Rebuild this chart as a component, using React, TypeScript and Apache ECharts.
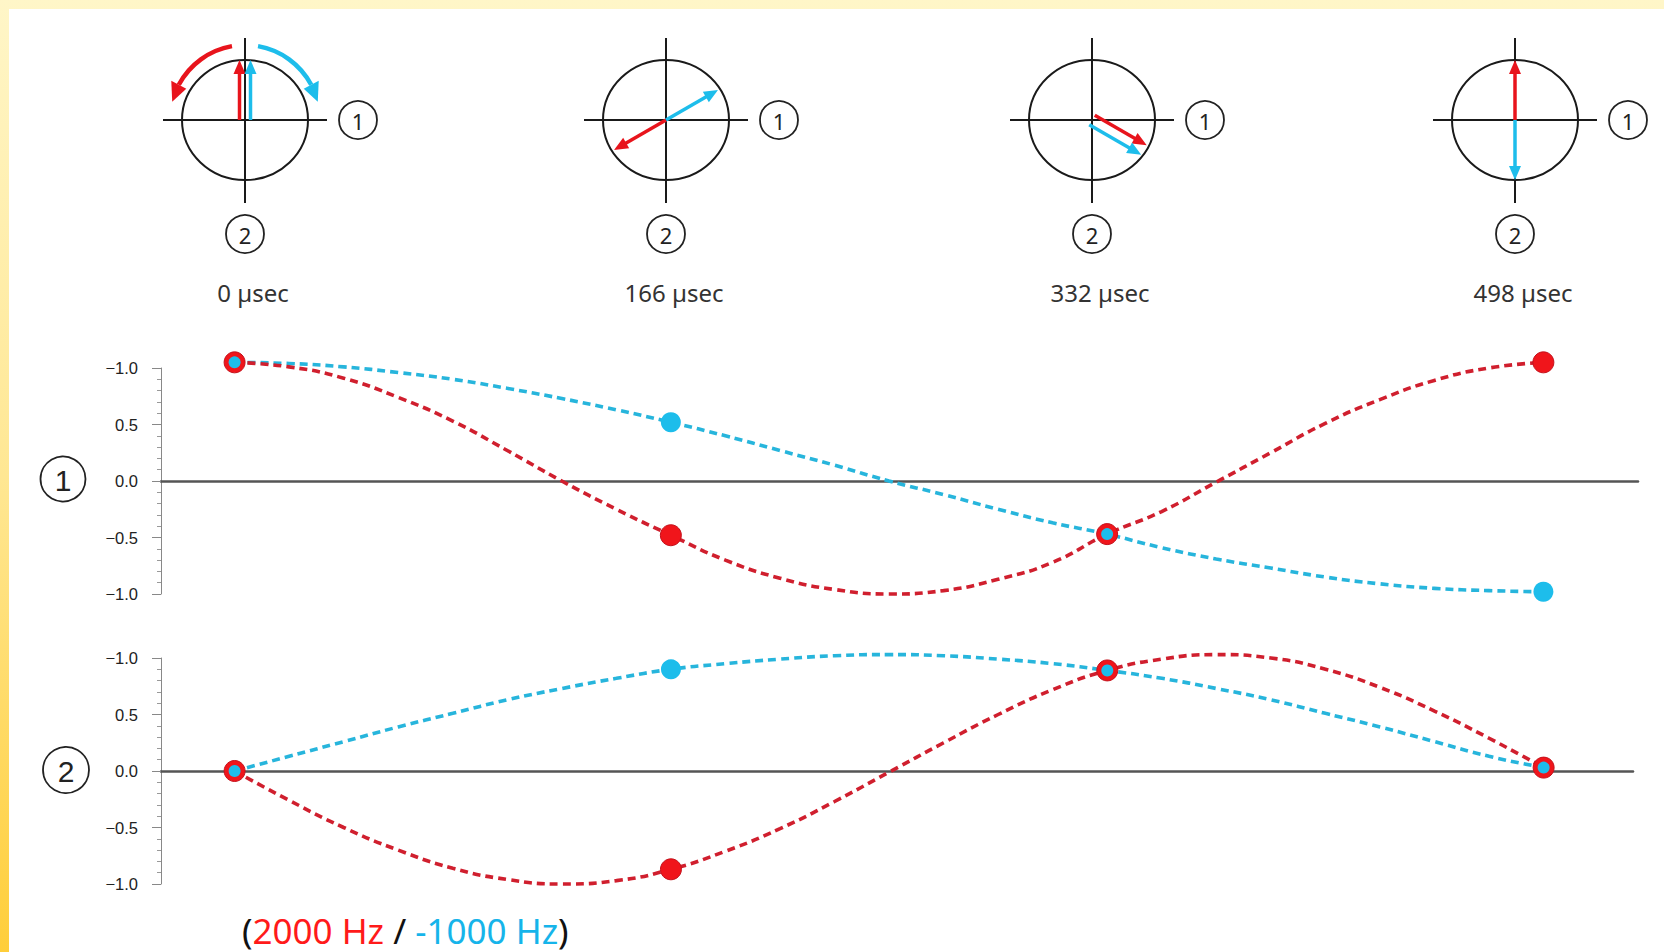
import React, { useEffect, useRef } from "react";
import * as echarts from "echarts";

// Times (µs) at which the two traces are sampled
const sampleTimes = [
  0, 20.75, 41.5, 62.25, 83, 103.75, 124.5, 145.25, 166, 186.75, 207.5, 228.25, 249,
  269.75, 290.5, 311.25, 332, 352.75, 373.5, 394.25, 415, 435.75, 456.5, 477.25, 498,
];
// Snapshot instants shown as phasor diagrams and as dots on the traces
const markerTimes = [0, 166, 332, 498];

// Axis ① projections
const axis1Red = [
  1.05, 1.01, 0.91, 0.74, 0.53, 0.27, 0.0, -0.25, -0.48, -0.7, -0.86, -0.96, -1.0,
  -0.97, -0.87, -0.72, -0.47, -0.27, -0.01, 0.25, 0.51, 0.72, 0.89, 1.0, 1.05,
];
const axis1Blue = [
  1.05, 1.04, 1.01, 0.96, 0.9, 0.82, 0.73, 0.63, 0.52, 0.4, 0.27, 0.14, 0.0,
  -0.12, -0.25, -0.37, -0.47, -0.59, -0.69, -0.77, -0.85, -0.91, -0.95, -0.97, -0.98,
];
// Axis ② projections
const axis2Red = [
  0.0, -0.26, -0.5, -0.7, -0.86, -0.96, -1.0, -0.97, -0.87, -0.71, -0.51, -0.27, -0.01,
  0.25, 0.5, 0.72, 0.89, 0.99, 1.03, 1.0, 0.9, 0.74, 0.53, 0.29, 0.03,
];
const axis2Blue = [
  0.0, 0.13, 0.26, 0.39, 0.51, 0.63, 0.73, 0.82, 0.9, 0.95, 0.99, 1.02, 1.03,
  1.02, 0.99, 0.95, 0.89, 0.82, 0.73, 0.63, 0.51, 0.39, 0.26, 0.13, 0.03,
];

// Tick labels, bottom to top (-1, -0.5, 0, 0.5, 1)
const yTickLabels = ["−1.0", "−0.5", "0.0", "0.5", "−1.0"];

// Phasor directions (degrees, counter-clockwise from axis ①) at each snapshot
const redAngles = [90, 210, 330, 90];
const blueAngles = [90, 30, 330, 270];

const legendRed = "2000 Hz";
const legendBlue = "-1000 Hz";

const RED_LINE = "#D01F2E";
const RED_DOT = "#F0151B";
const BLUE_LINE = "#27B5DC";
const BLUE_DOT = "#1DBDEB";
const INK = "#1a1a1a";

const W = 1664;
const H = 952;

const rad = (d: number) => (d * Math.PI) / 180;

function straightArrow(cx: number, cy: number, angle: number, len: number, offset: number, color: string) {
  const ux = Math.cos(rad(angle));
  const uy = -Math.sin(rad(angle));
  const nx = -Math.sin(rad(angle));
  const ny = -Math.cos(rad(angle));
  const sx = cx + nx * offset;
  const sy = cy + ny * offset;
  const tx = sx + ux * len;
  const ty = sy + uy * len;
  const head = 14;
  const hw = 6;
  const bx = tx - ux * head;
  const by = ty - uy * head;
  return [
    {
      type: "line",
      z: 20,
      shape: { x1: sx, y1: sy, x2: bx + ux * 2, y2: by + uy * 2 },
      style: { stroke: color, lineWidth: 3.5 },
    },
    {
      type: "polygon",
      z: 21,
      shape: { points: [[tx, ty], [bx + nx * hw, by + ny * hw], [bx - nx * hw, by - ny * hw]] },
      style: { fill: color },
    },
  ];
}

function curvedArrow(cx: number, cy: number, r: number, from: number, to: number, tip: number, color: string) {
  const lo = Math.min(from, to);
  const hi = Math.max(from, to);
  const bx = cx + r * Math.cos(rad(to));
  const by = cy - r * Math.sin(rad(to));
  const tx = cx + r * Math.cos(rad(tip));
  const ty = cy - r * Math.sin(rad(tip));
  const rx = Math.cos(rad(to));
  const ry = -Math.sin(rad(to));
  const hw = 8.5;
  return [
    {
      type: "arc",
      z: 20,
      shape: { cx, cy, r, startAngle: -rad(hi), endAngle: -rad(lo), clockwise: true },
      style: { stroke: color, lineWidth: 4.5, fill: "transparent" },
    },
    {
      type: "polygon",
      z: 21,
      shape: { points: [[tx, ty], [bx + rx * hw, by + ry * hw], [bx - rx * hw, by - ry * hw]] },
      style: { fill: color },
    },
  ];
}

function circledNumber(x: number, y: number, r: number, label: string, font: string) {
  return [
    {
      type: "circle",
      z: 20,
      shape: { cx: x, cy: y, r },
      style: { stroke: "#222", lineWidth: 1.8, fill: "transparent" },
    },
    {
      type: "text",
      z: 21,
      x,
      y: y + 1,
      style: {
        text: label,
        font,
        fill: "#222",
        align: "center",
        verticalAlign: "middle",
        textAlign: "center",
        textVerticalAlign: "middle",
      },
    },
  ];
}

function buildGraphics() {
  const els: any[] = [];
  const centersX = [245, 666, 1092, 1515];
  const cy = 120;
  markerTimes.forEach((t, i) => {
    const cx = centersX[i];
    els.push(
      { type: "line", z: 10, shape: { x1: cx - 82, y1: cy, x2: cx + 82, y2: cy }, style: { stroke: INK, lineWidth: 2 } },
      { type: "line", z: 10, shape: { x1: cx, y1: cy - 82, x2: cx, y2: cy + 83 }, style: { stroke: INK, lineWidth: 2 } },
      {
        type: "ellipse",
        z: 10,
        shape: { cx, cy, rx: 63, ry: 60 },
        style: { stroke: INK, lineWidth: 2, fill: "transparent" },
      }
    );
    els.push(...circledNumber(cx + 113, cy, 19, "1", '22px "Noto Sans"'));
    els.push(...circledNumber(cx, cy + 114, 19, "2", '22px "Noto Sans"'));
    els.push({
      type: "text",
      z: 20,
      x: cx + 8,
      y: 292,
      style: {
        text: `${t} µsec`,
        font: '24px "Noto Sans"',
        fill: "#333",
        align: "center",
        verticalAlign: "middle",
        textAlign: "center",
        textVerticalAlign: "middle",
      },
    });
    const ra = redAngles[i];
    const ba = blueAngles[i];
    const diff = Math.abs((((ra - ba) % 360) + 360) % 360);
    const same = diff < 10 || diff > 350;
    const off = same ? 5.5 : 0;
    els.push(...straightArrow(cx, cy, ra, 60, off, "#E8141C"));
    els.push(...straightArrow(cx, cy, ba, 60, -off, "#1DBDEB"));
  });

  // rotation sense of each phasor
  els.push(...curvedArrow(245, 120, 75, 100, 152, 166, "#E8141C"));
  els.push(...curvedArrow(245, 120, 75, 80, 28, 14, "#1DBDEB"));

  // trace names on the left
  els.push(...circledNumber(63, 479, 22.5, "1", '30px "Liberation Sans"'));
  els.push(...circledNumber(66, 770, 23, "2", '30px "Liberation Sans"'));

  els.push({
    type: "text",
    z: 20,
    x: 242,
    y: 930,
    style: {
      text: `{k|(}{r|${legendRed}}{k| / }{b|${legendBlue}}{k|)}`,
      font: '35px "Noto Sans"',
      verticalAlign: "middle",
      textVerticalAlign: "middle",
      rich: {
        k: { fill: "#111", fontSize: 35, fontFamily: "Noto Sans" },
        r: { fill: "#FF1A1A", fontSize: 35, fontFamily: "Noto Sans" },
        b: { fill: "#16B4EA", fontSize: 35, fontFamily: "Noto Sans" },
      },
    },
  });
  return els;
}

function pairs(values: number[]) {
  return sampleTimes.map((t, i) => [t, values[i]]);
}

function markerPoints(values: number[]) {
  return markerTimes.map((t) => [t, values[sampleTimes.indexOf(t)]]);
}

function traceSeries(k: number, red: number[], blue: number[]) {
  const redDots = markerPoints(red);
  const blueDots = markerPoints(blue).map((p, i) => {
    const overlap = Math.abs(p[1] - redDots[i][1]) < 0.06;
    return { value: p, symbolSize: overlap ? 12 : 20 };
  });
  return [
    {
      type: "line",
      xAxisIndex: k,
      yAxisIndex: k,
      data: pairs(blue),
      smooth: true,
      symbol: "none",
      clip: false,
      z: 2,
      lineStyle: { color: BLUE_LINE, width: 3.6, type: [8, 5] },
    },
    {
      type: "line",
      xAxisIndex: k,
      yAxisIndex: k,
      data: pairs(red),
      smooth: true,
      symbol: "none",
      clip: false,
      z: 3,
      lineStyle: { color: RED_LINE, width: 3.6, type: [8, 5] },
    },
    {
      type: "scatter",
      xAxisIndex: k,
      yAxisIndex: k,
      data: redDots,
      symbolSize: 21,
      clip: false,
      z: 4,
      itemStyle: { color: RED_DOT, borderColor: "#C4121C", borderWidth: 1, opacity: 1 },
    },
    {
      type: "scatter",
      xAxisIndex: k,
      yAxisIndex: k,
      data: blueDots,
      clip: false,
      z: 5,
      itemStyle: { color: BLUE_DOT, opacity: 1 },
    },
  ];
}

function xAxisFor(k: number, max: number) {
  return {
    gridIndex: k,
    type: "value",
    min: -28,
    max,
    axisLine: { show: true, onZero: true, lineStyle: { color: "#555", width: 2.5 } },
    axisTick: { show: false },
    axisLabel: { show: false },
    splitLine: { show: false },
  };
}

function yAxisFor(k: number) {
  return {
    gridIndex: k,
    type: "value",
    min: -1,
    max: 1,
    interval: 0.5,
    axisLine: { show: true, onZero: false, lineStyle: { color: "#888", width: 1 } },
    axisTick: { show: true, length: 9, lineStyle: { color: "#888" } },
    minorTick: { show: true, splitNumber: 5, length: 4, lineStyle: { color: "#999" } },
    splitLine: { show: false },
    axisLabel: {
      margin: 23,
      color: "#222",
      fontSize: 16.5,
      fontFamily: "Liberation Sans",
      formatter: (v: number) => yTickLabels[Math.round((v + 1) / 0.5)],
    },
  };
}

export default function App() {
  const ref = useRef<HTMLDivElement>(null);

  useEffect(() => {
    if (!ref.current) return;
    const chart = echarts.init(ref.current, null, { renderer: "svg", width: W, height: H });
    chart.setOption({
      animation: false,
      backgroundColor: "transparent",
      grid: [
        { left: 161, top: 368, width: 1477, height: 226 },
        { left: 161, top: 658, width: 1472, height: 226 },
      ],
      xAxis: [xAxisFor(0, 534), xAxisFor(1, 532)],
      yAxis: [yAxisFor(0), yAxisFor(1)],
      series: [...traceSeries(0, axis1Red, axis1Blue), ...traceSeries(1, axis2Red, axis2Blue)],
      graphic: { elements: buildGraphics() },
    });
    return () => chart.dispose();
  }, []);

  return (
    <div
      style={{
        position: "absolute",
        left: 0,
        top: 0,
        width: W,
        height: H,
        overflow: "hidden",
        background: "linear-gradient(180deg, #FFF6C8 0%, #FFE793 50%, #FFCE3A 100%)",
      }}
    >
      <div style={{ position: "absolute", left: 9, top: 9, right: 0, bottom: 0, background: "#fff" }} />
      <div ref={ref} style={{ position: "absolute", left: 0, top: 0, width: W, height: H }} />
    </div>
  );
}
